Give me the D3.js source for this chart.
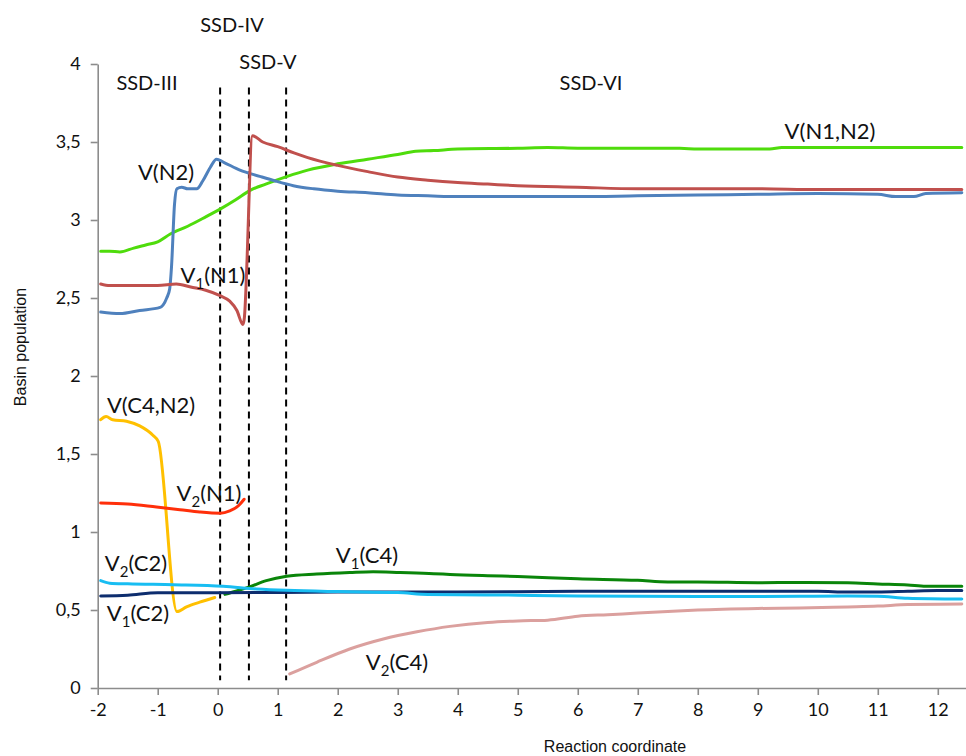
<!DOCTYPE html>
<html>
<head>
<meta charset="utf-8">
<script src="https://cdn.jsdelivr.net/npm/d3@7"></script>
<style>
  html, body { margin: 0; padding: 0; background: #fff; }
  svg { display: block; }
</style>
</head>
<body>
<svg id="chart" width="966" height="756"></svg>
<script>
// Basin populations along the reaction coordinate, one [x, population] list per basin
const vN1N2 = [[-1.95,2.80],[-1.8,2.80],[-1.63,2.795],[-1.4,2.82],[-1.2,2.84],[-1,2.86],[-0.79,2.91],[-0.5,2.96],[-0.2,3.02],[0.04,3.07],[0.3,3.13],[0.54,3.19],[0.8,3.23],[1.16,3.28],[1.5,3.32],[2,3.36],[2.5,3.39],[3,3.42],[3.3,3.44],[3.6,3.445],[4,3.455],[5,3.46],[5.5,3.465],[6,3.46],[7,3.46],[7.7,3.46],[8,3.455],[9.2,3.455],[9.4,3.465],[10,3.465],[12.4,3.465]];
const vN2 = [[-1.95,2.41],[-1.63,2.40],[-1.3,2.42],[-0.96,2.44],[-0.85,2.5],[-0.8,2.56],[-0.77,2.7],[-0.72,3.1],[-0.68,3.2],[-0.6,3.21],[-0.5,3.2],[-0.35,3.2],[-0.25,3.25],[-0.12,3.34],[-0.02,3.39],[0.1,3.37],[0.37,3.32],[0.7,3.28],[0.96,3.25],[1.26,3.22],[1.6,3.2],[2,3.185],[2.5,3.175],[3,3.16],[3.5,3.155],[4,3.15],[5,3.15],[6,3.15],[7,3.155],[8,3.16],[9,3.165],[10,3.17],[11,3.165],[11.3,3.15],[11.6,3.15],[11.8,3.17],[12.4,3.175]];
const v1N1 = [[-1.95,2.59],[-1.8,2.58],[-1.5,2.58],[-1,2.58],[-0.69,2.59],[-0.45,2.57],[-0.2,2.55],[0.04,2.515],[0.2,2.48],[0.32,2.42],[0.42,2.33],[0.44,2.36],[0.58,3.54],[0.75,3.5],[1,3.47],[1.27,3.43],[1.5,3.4],[2,3.35],[2.5,3.31],[3,3.275],[3.5,3.255],[4,3.24],[4.5,3.23],[5,3.22],[6,3.21],[7,3.2],[8,3.2],[9,3.2],[10,3.195],[11,3.195],[12.4,3.195]];
const vC4N2 = [[-1.95,1.72],[-1.86,1.74],[-1.75,1.72],[-1.52,1.71],[-1.3,1.68],[-1.08,1.62],[-0.99,1.58],[-0.68,0.49],[-0.52,0.52],[-0.3,0.55],[-0.05,0.58]];
const v2N1 = [[-1.95,1.186],[-1.5,1.18],[-1.02,1.16],[-0.63,1.143],[-0.3,1.128],[0.04,1.12],[0.2,1.135],[0.35,1.17],[0.44,1.21]];
const v2C2 = [[-1.95,0.688],[-1.8,0.672],[-1.5,0.668],[-0.74,0.662],[0.09,0.652],[0.65,0.635],[1.15,0.626],[2,0.618],[3,0.612],[3.5,0.6],[5,0.595],[6,0.59],[8,0.586],[9.7,0.588],[10.5,0.59],[11,0.588],[11.5,0.575],[12.4,0.57]];
const v1C2 = [[-1.95,0.59],[-1.5,0.595],[-1,0.61],[0,0.61],[2,0.615],[4,0.615],[6,0.62],[8,0.62],[10,0.62],[10.5,0.615],[11,0.615],[11.5,0.62],[12,0.625],[12.4,0.625]];
const v1C4 = [[0.12,0.60],[0.3,0.62],[0.54,0.65],[0.81,0.688],[1.15,0.716],[1.65,0.73],[2.2,0.74],[2.59,0.745],[3.04,0.74],[3.6,0.733],[3.87,0.728],[4.5,0.72],[5,0.715],[6,0.70],[7,0.69],[7.5,0.68],[8,0.68],[9,0.675],[9.7,0.677],[10.5,0.675],[11,0.667],[11.5,0.66],[11.8,0.652],[12.4,0.652]];
const v2C4 = [[1.2,0.09],[1.65,0.165],[2.2,0.25],[2.76,0.314],[3.32,0.36],[3.87,0.395],[4.5,0.42],[5,0.43],[5.5,0.435],[6,0.46],[6.5,0.47],[7,0.48],[7.5,0.49],[8,0.5],[9,0.51],[9.7,0.513],[10.5,0.52],[11,0.525],[11.5,0.535],[12.4,0.538]];

// Boundaries between structural stability domains
const ssdBounds = [0.04, 0.52, 1.14];
const ssdLabels = ["SSD-III", "SSD-IV", "SSD-V", "SSD-VI"];

const xTicks = d3.range(-2, 13, 1);
const yTicks = [0, 0.5, 1, 1.5, 2, 2.5, 3, 3.5, 4];

const series = [
  { data: vN1N2, color: "#4fdc0c" },
  { data: vN2,   color: "#4f81bd" },
  { data: v1N1,  color: "#c0504d" },
  { data: vC4N2, color: "#ffc000" },
  { data: v2N1,  color: "#ff2f0a" },
  { data: v1C4,  color: "#0a850a" },
  { data: v2C4,  color: "#dba09e" },
  { data: v1C2,  color: "#0d2d6e" },
  { data: v2C2,  color: "#18bdf2" }
];

const svg = d3.select("#chart");
const x = d3.scaleLinear().domain([-2, 12.47]).range([97.7, 966]);
const y = d3.scaleLinear().domain([0, 4]).range([688, 64]);

const labelFont = "Lato, 'Open Sans', sans-serif";

// Axes (plain hyphen for negative numbers, comma as decimal mark)
const xAxis = svg.append("g")
  .attr("transform", `translate(0,${y(0)})`)
  .call(d3.axisBottom(x).tickValues(xTicks).tickSize(7).tickSizeOuter(0).tickPadding(8)
    .tickFormat(d => String(d)));
const yAxis = svg.append("g")
  .attr("transform", `translate(${x(-2)},0)`)
  .call(d3.axisLeft(y).tickValues(yTicks).tickSize(7).tickSizeOuter(0).tickPadding(10)
    .tickFormat(d => String(d).replace(".", ",")));
[xAxis, yAxis].forEach(g => {
  g.select(".domain").attr("stroke", "#8c8c8c").attr("stroke-width", 1.6);
  g.selectAll(".tick line").attr("stroke", "#8c8c8c").attr("stroke-width", 1.6);
  g.selectAll(".tick text").attr("fill", "#111").style("font-family", labelFont).style("font-size", "18px");
});

// Axis titles
svg.append("text")
  .attr("x", 615).attr("y", 752)
  .attr("text-anchor", "middle")
  .style("font-family", "'Liberation Sans', Arial, sans-serif").style("font-size", "16px")
  .attr("fill", "#111")
  .text("Reaction coordinate");
svg.append("text")
  .attr("transform", "translate(26,347) rotate(-90)")
  .attr("text-anchor", "middle")
  .style("font-family", "'Liberation Sans', Arial, sans-serif").style("font-size", "16px")
  .attr("fill", "#111")
  .text("Basin population");

// Domain boundaries
svg.append("g").selectAll("line").data(ssdBounds).join("line")
  .attr("x1", d => x(d)).attr("x2", d => x(d))
  .attr("y1", y(3.85)).attr("y2", y(0.05))
  .attr("stroke", "#000").attr("stroke-width", 2)
  .attr("stroke-dasharray", "7,5");

// Curves
const line = d3.line().x(d => x(d[0])).y(d => y(d[1])).curve(d3.curveMonotoneX);
svg.append("g").selectAll("path").data(series).join("path")
  .attr("d", s => line(s.data))
  .attr("fill", "none")
  .attr("stroke", s => s.color)
  .attr("stroke-width", 3)
  .attr("stroke-linejoin", "round")
  .attr("stroke-linecap", "round");

// Curve labels: [main, subscript, rest, centre x, baseline y]
const curveLabels = [
  ["V", "", "(N2)", 166, 180],
  ["V", "1", "(N1)", 213, 283],
  ["V", "", "(C4,N2)", 151, 413],
  ["V", "2", "(N1)", 209, 501],
  ["V", "2", "(C2)", 136, 571],
  ["V", "1", "(C2)", 138, 621],
  ["V", "1", "(C4)", 367, 563],
  ["V", "2", "(C4)", 397, 670],
  ["V", "", "(N1,N2)", 830, 139]
];
const lab = svg.append("g").style("font-family", labelFont).style("font-size", "22px").attr("fill", "#111");
curveLabels.forEach(([a, sub, rest, cx, by]) => {
  const t = lab.append("text").attr("x", cx).attr("y", by).attr("text-anchor", "middle");
  t.append("tspan").text(a);
  if (sub) {
    t.append("tspan").attr("dy", 6).style("font-size", "15px").text(sub);
    t.append("tspan").attr("dy", -6).text(rest);
  } else {
    t.append("tspan").text(rest);
  }
});

// Domain labels
const ssdPos = [[147, 90], [232, 32], [268, 69], [591, 90]];
lab.selectAll("text.ssd").data(ssdLabels).join("text")
  .attr("class", "ssd")
  .attr("x", (d, i) => ssdPos[i][0]).attr("y", (d, i) => ssdPos[i][1])
  .attr("text-anchor", "middle")
  .style("font-size", "20px")
  .text(d => d);
</script>
</body>
</html>
